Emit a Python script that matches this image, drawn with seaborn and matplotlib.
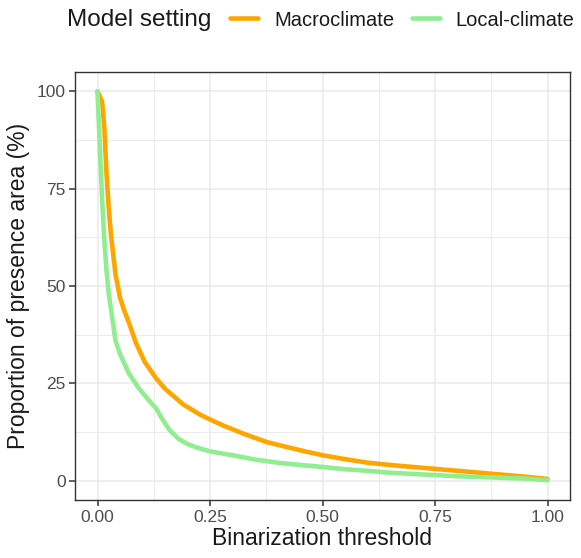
import numpy as np
import pandas as pd
import seaborn as sns
import matplotlib.pyplot as plt
from matplotlib.lines import Line2D
from matplotlib.ticker import FixedLocator

# Proportion of presence area (%) against binarization threshold
threshold_macro = [0.00, 0.01, 0.015, 0.02, 0.025, 0.03, 0.04, 0.05, 0.06, 0.07,
                   0.085, 0.105, 0.13, 0.15, 0.19, 0.23, 0.28, 0.33, 0.376, 0.40,
                   0.45, 0.50, 0.55, 0.60, 0.65, 0.70, 0.75, 0.80, 0.85, 0.90,
                   0.95, 1.00]
presence_macro = [100, 97.5, 91, 79, 70, 63, 53, 47, 43.5, 40.5,
                  35.5, 30.5, 26.3, 23.6, 19.6, 16.8, 14.1, 11.8, 9.9, 9.2,
                  7.8, 6.5, 5.5, 4.6, 4.0, 3.5, 3.0, 2.5, 2.0, 1.5,
                  1.0, 0.4]

threshold_local = [0.00, 0.005, 0.01, 0.015, 0.02, 0.025, 0.03, 0.035, 0.04, 0.05,
                   0.07, 0.09, 0.115, 0.13, 0.145, 0.16, 0.18, 0.20, 0.22, 0.25,
                   0.30, 0.35, 0.40, 0.45, 0.50, 0.55, 0.60, 0.65, 0.70, 0.75,
                   0.80, 0.85, 0.90, 0.95, 1.00]
presence_local = [100, 86, 73, 62, 54, 48, 44, 40, 36, 32.5,
                  27.5, 24, 20.5, 18.6, 15.6, 13.0, 10.7, 9.4, 8.5, 7.5,
                  6.5, 5.4, 4.6, 4.0, 3.5, 2.9, 2.5, 2.0, 1.7, 1.4,
                  1.1, 0.9, 0.7, 0.5, 0.1]

settings = ["Macroclimate", "Local-climate"]
colors = ["#FFA500", "#90EE90"]

x_ticks = [0.0, 0.25, 0.50, 0.75, 1.00]
x_tick_labels = ["0.00", "0.25", "0.50", "0.75", "1.00"]
y_ticks = [0, 25, 50, 75, 100]
y_tick_labels = ["0", "25", "50", "75", "100"]

df = pd.concat([
    pd.DataFrame({"threshold": threshold_macro, "presence": presence_macro,
                  "setting": settings[0]}),
    pd.DataFrame({"threshold": threshold_local, "presence": presence_local,
                  "setting": settings[1]}),
], ignore_index=True)

sns.set_theme(style="whitegrid")
plt.rcParams['font.family'] = ['Liberation Sans', 'DejaVu Sans']

W, H = 581, 558
fig = plt.figure(figsize=(W / 100, H / 100), dpi=100)
left, right, top, bottom = 75, 570, 72, 500
ax = fig.add_axes([left / W, 1 - bottom / H, (right - left) / W, (bottom - top) / H])

palette = dict(zip(settings, colors))
sns.lineplot(data=df, x="threshold", y="presence", hue="setting",
             hue_order=settings, palette=palette, linewidth=3.3,
             estimator=None, legend=False, ax=ax)

ax.set_xlim(-0.05, 1.05)
ax.set_ylim(-5, 105)
ax.xaxis.set_major_locator(FixedLocator(x_ticks))
ax.set_xticklabels(x_tick_labels)
ax.yaxis.set_major_locator(FixedLocator(y_ticks))
ax.set_yticklabels(y_tick_labels)
ax.xaxis.set_minor_locator(FixedLocator([0.125, 0.375, 0.625, 0.875]))
ax.yaxis.set_minor_locator(FixedLocator([12.5, 37.5, 62.5, 87.5]))

ax.set_facecolor("white")
ax.grid(which="major", color="#EBEBEB", linewidth=1.2)
ax.grid(which="minor", color="#EBEBEB", linewidth=0.7)
ax.set_axisbelow(True)
for s in ax.spines.values():
    s.set_color("#333333")
    s.set_linewidth(1.0)

ax.tick_params(axis="both", which="major", bottom=True, left=True,
               length=4.5, width=1.1, color="#333333",
               labelsize=12.5, labelcolor="#4D4D4D")
ax.tick_params(axis="x", pad=3)
ax.tick_params(axis="y", pad=2)
ax.tick_params(which="minor", length=0)

ax.set_xlabel("Binarization threshold", fontsize=16.5, color="#1A1A1A", labelpad=1)
ax.set_ylabel("Proportion of presence area (%)", fontsize=16.5, color="#1A1A1A", labelpad=5)

# Legend laid out horizontally above the panel, title to the left
fig.text(67 / W, 1 - 20 / H, "Model setting", fontsize=17.5, color="#1A1A1A",
         ha="left", va="center")
handles = [Line2D([0], [0], color=c, lw=3.3) for c in colors]
fig.legend(handles, settings, loc="center left", bbox_to_anchor=(230 / W, 1 - 20 / H),
           ncol=2, frameon=False, fontsize=14.5, handlelength=1.4,
           handletextpad=0.8, columnspacing=0.85, borderpad=0, borderaxespad=0,
           labelcolor="#1A1A1A")

fig.savefig("out.png", dpi=100, facecolor="white")
